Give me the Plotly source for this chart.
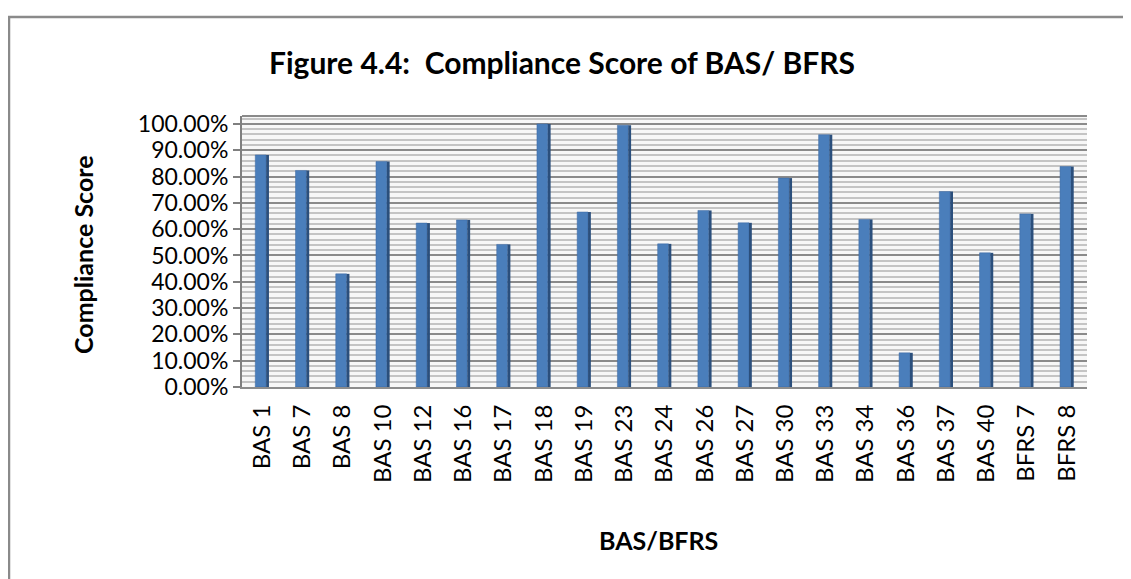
import plotly.graph_objects as go

categories = ["BAS 1", "BAS 7", "BAS 8", "BAS 10", "BAS 12", "BAS 16", "BAS 17", "BAS 18",
              "BAS 19", "BAS 23", "BAS 24", "BAS 26", "BAS 27", "BAS 30", "BAS 33", "BAS 34",
              "BAS 36", "BAS 37", "BAS 40", "BFRS 7", "BFRS 8"]
scores = [0.882, 0.823, 0.430, 0.857, 0.623, 0.635, 0.542, 1.000,
          0.665, 0.995, 0.544, 0.671, 0.624, 0.794, 0.959, 0.637,
          0.130, 0.743, 0.510, 0.658, 0.838]
y_ticks = [i / 10 for i in range(11)]
y_tick_labels = [f"{v*100:.2f}%" for v in y_ticks]

FONT = "Lato"
OFF = 8  # page body margin
W, H = 1131 - OFF, 579 - OFF
L = 242 - OFF
R = W - (1087 - OFF)
T = 116 - OFF
B = H - (387 - OFF)
pw = W - L - R
ph = H - T - B

def px2paper_x(px):
    return (px - OFF - L) / pw

def px2paper_y(py):
    return (H - B - (py - OFF)) / ph

fig = go.Figure()
fig.add_trace(go.Bar(x=list(range(len(categories))), y=scores, width=0.27, offset=-0.17,
                     marker=dict(color="#4a7ebb", line=dict(color="#3a67a0", width=0.5)),
                     showlegend=False, hoverinfo="skip"))
fig.add_trace(go.Bar(x=list(range(len(categories))), y=scores, width=0.07, offset=0.10,
                     marker=dict(color="#2b4f7c", line=dict(width=0)),
                     showlegend=False, hoverinfo="skip"))

fig.update_layout(
    width=W, height=H,
    margin=dict(l=L, r=R, t=T, b=B, autoexpand=False),
    paper_bgcolor="white",
    plot_bgcolor="#f7f7f7",
    barmode="overlay",
    font=dict(family=FONT, color="black"),
    xaxis=dict(
        range=[-0.5, len(categories) - 0.5],
        tickmode="array", tickvals=list(range(len(categories))), ticktext=categories,
        tickangle=-90, tickfont=dict(size=24, family=FONT),
        showgrid=False, zeroline=False,
        showline=True, linecolor="#8c8c8c", linewidth=2,
        ticks="", ticklabelstandoff=6,
    ),
    yaxis=dict(
        range=[0, 1.03],
        tickmode="array", tickvals=y_ticks, ticktext=y_tick_labels,
        tickfont=dict(size=23, family=FONT),
        showgrid=True, gridcolor="#8a8a8a", gridwidth=1.5,
        minor=dict(dtick=0.02, showgrid=True, gridcolor="#c4c4c4", gridwidth=2),
        zeroline=False,
        showline=True, linecolor="#7f7f7f", linewidth=2,
        ticks="outside", ticklen=7, tickcolor="#7f7f7f", tickwidth=2,
    ),
    shapes=[
        dict(type="rect", xref="paper", yref="paper",
             x0=px2paper_x(9), x1=px2paper_x(1160), y0=px2paper_y(600), y1=px2paper_y(17),
             line=dict(color="#8a8a8a", width=2.5), fillcolor="rgba(0,0,0,0)", layer="below"),
        dict(type="line", xref="paper", yref="paper",
             x0=0, x1=1, y0=1, y1=1, line=dict(color="#8a8a8a", width=2)),
    ],
    annotations=[
        dict(text="<b>Figure 4.4:  Compliance Score of BAS/ BFRS</b>", xref="paper", yref="paper",
             x=px2paper_x(562), y=px2paper_y(62), xanchor="center", yanchor="middle",
             showarrow=False, font=dict(size=30, family=FONT)),
        dict(text="<b>Compliance Score</b>", xref="paper", yref="paper",
             x=px2paper_x(83), y=px2paper_y(255), xanchor="center", yanchor="middle",
             textangle=-90, showarrow=False, font=dict(size=25, family=FONT)),
        dict(text="<b>BAS/BFRS</b>", xref="paper", yref="paper",
             x=px2paper_x(658), y=px2paper_y(540), xanchor="center", yanchor="middle",
             showarrow=False, font=dict(size=25, family=FONT)),
    ],
)

fig.write_html("out.html")
